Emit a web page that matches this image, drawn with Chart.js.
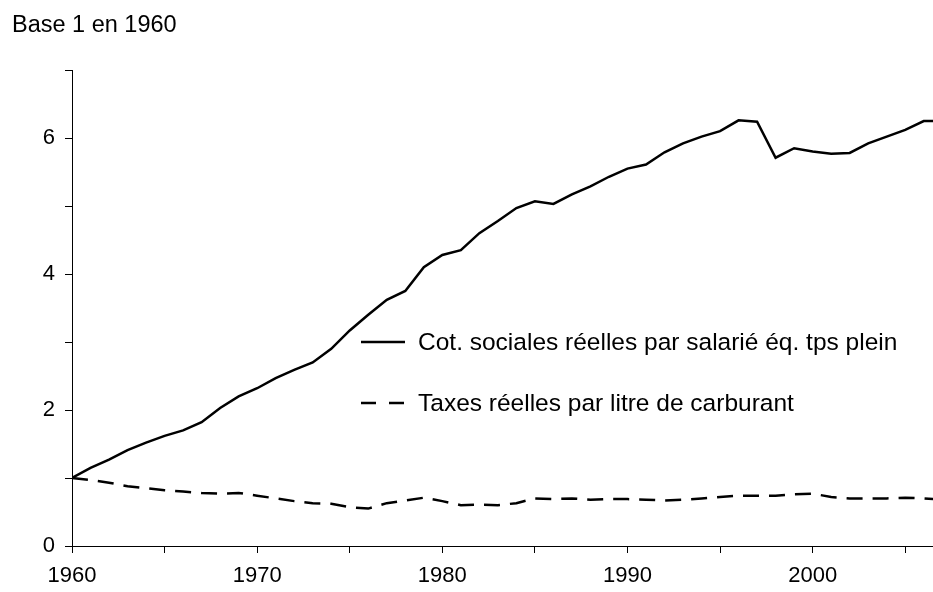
<!DOCTYPE html>
<html>
<head>
<meta charset="utf-8">
<script src="https://cdn.jsdelivr.net/npm/chart.js@4/dist/chart.umd.min.js"></script>
<style>
  html, body { margin: 0; padding: 0; background: #fff; }
  #wrap { width: 933px; height: 592px; }
</style>
</head>
<body>
<div id="wrap"><canvas id="c" width="933" height="592"></canvas></div>
<script>
const years = [1960,1961,1962,1963,1964,1965,1966,1967,1968,1969,
               1970,1971,1972,1973,1974,1975,1976,1977,1978,1979,
               1980,1981,1982,1983,1984,1985,1986,1987,1988,1989,
               1990,1991,1992,1993,1994,1995,1996,1997,1998,1999,
               2000,2001,2002,2003,2004,2005,2006,2007];
const cotSociales = [1.00,1.15,1.27,1.41,1.52,1.62,1.70,1.82,2.03,2.20,
                     2.32,2.47,2.59,2.70,2.90,3.17,3.40,3.62,3.75,4.10,
                     4.28,4.35,4.60,4.78,4.97,5.07,5.03,5.17,5.29,5.43,
                     5.55,5.61,5.79,5.92,6.02,6.10,6.26,6.24,5.71,5.85,
                     5.80,5.77,5.78,5.92,6.02,6.12,6.25,6.25];
const taxesCarburant = [1.00,0.97,0.93,0.88,0.85,0.82,0.80,0.78,0.77,0.78,
                        0.74,0.70,0.66,0.63,0.62,0.57,0.55,0.63,0.67,0.71,
                        0.66,0.60,0.61,0.60,0.63,0.70,0.69,0.70,0.68,0.69,
                        0.69,0.68,0.67,0.68,0.70,0.72,0.74,0.74,0.74,0.76,
                        0.77,0.72,0.70,0.70,0.70,0.71,0.70,0.68];
const seriesLabels = ["Cot. sociales réelles par salarié éq. tps plein",
                      "Taxes réelles par litre de carburant"];
const titleText = "Base 1 en 1960";
const yTickValues = [0,1,2,3,4,5,6,7];
const xTickLabelYears = [1960,1970,1980,1990,2000];

const FONT = "'Liberation Sans', Arial, sans-serif";

const overlay = {
  id: 'overlay',
  afterDraw(chart) {
    const ctx = chart.ctx;
    ctx.save();
    ctx.fillStyle = '#000';
    ctx.font = '23.5px ' + FONT;
    ctx.textBaseline = 'middle';
    ctx.textAlign = 'left';
    ctx.fillText(titleText, 12, 26);
    // legend inside plot
    ctx.font = '24.5px ' + FONT;
    const items = chart.data.datasets;
    const ys = [342, 403];
    items.forEach((ds, i) => {
      ctx.beginPath();
      ctx.strokeStyle = ds.borderColor;
      ctx.lineWidth = ds.borderWidth;
      if (ds.borderDash) {
        ctx.moveTo(361, ys[i]); ctx.lineTo(376, ys[i]);
        ctx.moveTo(389, ys[i]); ctx.lineTo(404, ys[i]);
      } else {
        ctx.moveTo(361, ys[i]); ctx.lineTo(405, ys[i]);
      }
      ctx.stroke();
      ctx.textBaseline = 'middle';
      ctx.fillText(ds.label, 418, ys[i] + 1);
    });
    ctx.restore();
  }
};

new Chart(document.getElementById('c'), {
  type: 'line',
  data: {
    datasets: [
      {
        label: seriesLabels[0],
        data: years.map((y, i) => ({x: y, y: cotSociales[i]})),
        borderColor: '#000', borderWidth: 2.5, pointRadius: 0, tension: 0, fill: false
      },
      {
        label: seriesLabels[1],
        data: years.map((y, i) => ({x: y, y: taxesCarburant[i]})),
        borderColor: '#000', borderWidth: 2.5, borderDash: [16, 10], pointRadius: 0, tension: 0, fill: false
      }
    ]
  },
  options: {
    responsive: false,
    animation: false,
    layout: { padding: { top: 70, right: 0, left: 0, bottom: 0 } },
    plugins: { legend: { display: false }, tooltip: { enabled: false }, title: { display: false } },
    scales: {
      x: {
        type: 'linear',
        min: 1960, max: 2006.5,
        afterFit(s) { s.height = 46; },
        border: { display: true, color: '#000', width: 1 },
        grid: { display: true, drawOnChartArea: false, drawTicks: true, tickLength: 7, color: '#000', lineWidth: 1 },
        ticks: {
          stepSize: 5, includeBounds: false, autoSkip: false, maxRotation: 0,
          color: '#000', font: { family: FONT, size: 22 }, padding: 10,
          callback: (v) => xTickLabelYears.includes(v) ? String(v) : ''
        }
      },
      y: {
        type: 'linear',
        min: yTickValues[0], max: yTickValues[yTickValues.length - 1],
        afterFit(s) { s.width = 72; },
        border: { display: true, color: '#000', width: 1 },
        grid: { display: true, drawOnChartArea: false, drawTicks: true, tickLength: 7, color: '#000', lineWidth: 1 },
        ticks: {
          stepSize: 1, autoSkip: false,
          color: '#000', font: { family: FONT, size: 22 }, padding: 10,
          callback: (v) => (v % 2 === 0 && v !== 7) ? String(v) : ''
        }
      }
    }
  },
  plugins: [overlay]
});
</script>
</body>
</html>
